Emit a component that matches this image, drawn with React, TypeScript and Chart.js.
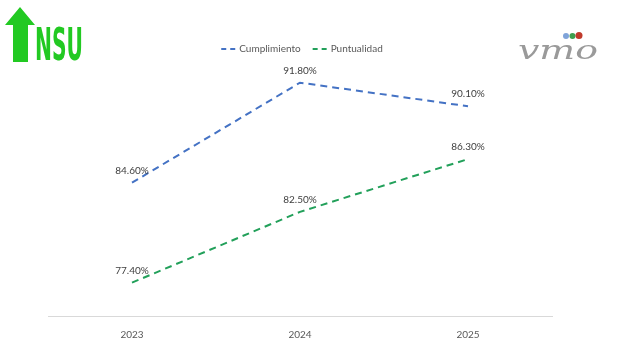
import React, { useEffect, useRef } from "react";
import { Chart, registerables } from "chart.js";

Chart.register(...registerables);

const categories = ["2023", "2024", "2025"];
const cumplimiento = [84.6, 91.8, 90.1];
const puntualidad = [77.4, 82.5, 86.3];
const seriesNames = ["Cumplimiento", "Puntualidad"];

const FONT = "Lato, 'Open Sans', sans-serif";

const dataLabelPlugin = {
  id: "dataLabels",
  afterDatasetsDraw(chart: any) {
    const ctx = chart.ctx;
    ctx.save();
    ctx.font = `10px ${FONT}`;
    ctx.fillStyle = "#404040";
    ctx.textAlign = "center";
    ctx.textBaseline = "middle";
    chart.data.datasets.forEach((ds: any, i: number) => {
      const meta = chart.getDatasetMeta(i);
      meta.data.forEach((pt: any, j: number) => {
        const v = ds.data[j] as number;
        ctx.fillText(v.toFixed(2) + "%", pt.x, pt.y - 12);
      });
    });
    ctx.restore();
  },
};

const legendPlugin = {
  id: "dashLegend",
  afterDraw(chart: any) {
    const ctx = chart.ctx;
    ctx.save();
    ctx.font = `10px ${FONT}`;
    ctx.textBaseline = "middle";
    ctx.textAlign = "left";
    const y = 49;
    const gap = 12;
    const sample = 14;
    const items = chart.data.datasets.map((ds: any) => ({
      text: ds.label,
      color: ds.borderColor,
      w: sample + 4 + ctx.measureText(ds.label).width,
    }));
    const total = items.reduce((a: number, b: any) => a + b.w, 0) + gap * (items.length - 1);
    let x = (chart.chartArea.left + chart.chartArea.right) / 2 - total / 2 + 2;
    items.forEach((it: any) => {
      ctx.strokeStyle = it.color;
      ctx.lineWidth = 2;
      ctx.setLineDash([5, 4]);
      ctx.beginPath();
      ctx.moveTo(x, y);
      ctx.lineTo(x + sample, y);
      ctx.stroke();
      ctx.setLineDash([]);
      ctx.fillStyle = "#595959";
      ctx.fillText(it.text, x + sample + 4, y);
      x += it.w + gap;
    });
    ctx.restore();
  },
};

export default function App() {
  const ref = useRef<HTMLCanvasElement | null>(null);
  useEffect(() => {
    if (!ref.current) return;
    const chart = new Chart(ref.current, {
      type: "line",
      data: {
        labels: categories,
        datasets: [
          {
            label: seriesNames[0],
            data: cumplimiento,
            borderColor: "#4472C4",
            backgroundColor: "#4472C4",
            borderWidth: 2,
            borderDash: [7, 5],
            pointRadius: 0,
            tension: 0,
          },
          {
            label: seriesNames[1],
            data: puntualidad,
            borderColor: "#22A05A",
            backgroundColor: "#22A05A",
            borderWidth: 2,
            borderDash: [7, 5],
            pointRadius: 0,
            tension: 0,
          },
        ],
      },
      plugins: [dataLabelPlugin, legendPlugin],
      options: {
        responsive: false,
        animation: false,
        layout: { padding: { left: 48, right: 81, top: 66, bottom: 10 } },
        plugins: {
          tooltip: { enabled: false },
          legend: { display: false },
        },
        scales: {
          x: {
            offset: true,
            grid: { display: false },
            border: { display: true, color: "#d9d9d9", width: 1 },
            ticks: { color: "#595959", font: { family: FONT, size: 10 }, padding: 5 },
          },
          y: {
            display: false,
            min: 75,
            max: 93,
          },
        },
      },
    } as any);
    return () => chart.destroy();
  }, []);

  return (
    <div style={{ position: "absolute", left: 0, top: 0, width: 633, height: 356, background: "#ffffff" }}>
      <canvas ref={ref} width={633} height={356} style={{ display: "block" }} />
      <svg width={90} height={66} style={{ position: "absolute", left: 0, top: 0 }}>
        <polygon points="5,25 20,7 35,25 28,25 28,62 13,62 13,25" fill="#22C922" />
        <text
          x={35}
          y={60}
          fill="#22C922"
          fontFamily="'DejaVu Sans Condensed', 'DejaVu Sans', sans-serif"
          fontWeight="bold"
          fontSize={44}
          textLength={48}
          lengthAdjust="spacingAndGlyphs"
        >
          NSU
        </text>
      </svg>
      <svg width={110} height={40} style={{ position: "absolute", left: 510, top: 28 }}>
        <circle cx={56} cy={8} r={3} fill="#7FA3D9" />
        <circle cx={62.5} cy={8} r={3} fill="#3E9E4E" />
        <circle cx={69} cy={7.5} r={3.5} fill="#C0392B" />
        <text
          x={8}
          y={31}
          fill="#9a9a9a"
          fontFamily="'DejaVu Serif', serif"
          fontStyle="italic"
          fontSize={26}
          textLength={80}
          lengthAdjust="spacingAndGlyphs"
        >
          vmo
        </text>
      </svg>
    </div>
  );
}
